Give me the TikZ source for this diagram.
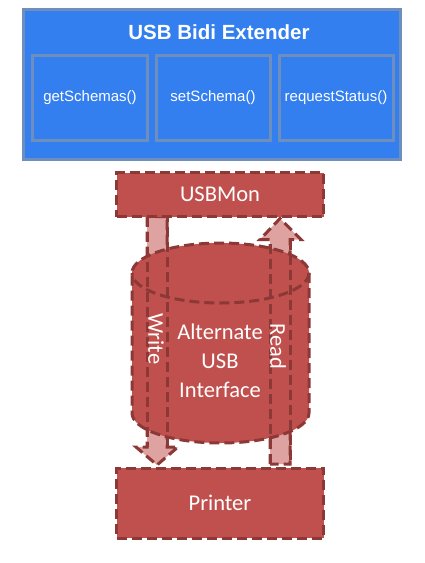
\documentclass[tikz,border=0pt]{standalone}
\usepackage{fontspec}
\setmainfont{Carlito}
\newfontfamily\arialfont{Liberation Sans}
\usetikzlibrary{calc,backgrounds}

\definecolor{extblue}{RGB}{51,127,240}
\definecolor{extedge}{RGB}{110,143,190}
\definecolor{monred}{RGB}{192,80,77}
\definecolor{monedge}{RGB}{140,56,54}
\definecolor{arrowpink}{RGB}{222,162,161}

\tikzset{
  extbox/.style={draw=extedge, line width=3pt, fill=extblue, inner sep=0pt, outer sep=0pt},
  methodbox/.style={extbox, minimum width=114pt, minimum height=85pt, text=white,
    font=\arialfont\fontsize{15}{18}\selectfont},
  reddash/.style={draw=monedge, line width=3pt, dash pattern=on 10pt off 5pt},
  redbox/.style={reddash, fill=monred, minimum width=207pt, inner sep=0pt, outer sep=0pt,
    text=white, font=\fontsize{22.5}{28}\selectfont},
  redtext/.style={text=white, font=\fontsize{22.5}{29}\selectfont},
  blockarrow/.style={reddash, fill=arrowpink}
}

\begin{document}
\begin{tikzpicture}[x=1pt, y=-1pt, node distance=123pt]
\useasboundingbox (0,0) rectangle (424,563);

% extender
\node[extbox, minimum width=377pt, minimum height=150pt] (ext) at (212,84.5) {};
\node[text=white, font=\arialfont\bfseries\fontsize{20.5}{24}\selectfont] (title) at (219,32) {USB Bidi Extender};
\node[methodbox, minimum width=115pt] (m1) at (90,97.5) {getSchemas()};
\node[methodbox, right of=m1] (m2) {setSchema()};
\node[methodbox, right of=m2] (m3) {requestStatus()};

% usb side
\node[redbox, minimum height=44pt] (usbmon) at (220,194.5) {USBMon};
\node[redbox, minimum height=70pt, below of=usbmon, node distance=308.5pt] (printer) {Printer};

\node[redtext, align=center] (iface) at (220,361) {Alternate\\USB\\Interface};
\node[redtext, rotate=-90] (write) at (156,339) {Write};
\node[redtext, rotate=-90] (read) at (278,346) {Read};

\coordinate (wx) at (157,0);
\coordinate (rx) at (280,0);
\coordinate (wtop) at (usbmon.south -| wx);
\coordinate (wtip) at ($(printer.north -| wx)+(0,-3)$);
\coordinate (rbot) at ($(printer.north -| rx)+(0,-4)$);
\coordinate (rtip) at ($(usbmon.south -| rx)+(0,2)$);

\begin{scope}[on background layer]
\draw[blockarrow] ($(wtop)+(-10,0)$) -- ($(wtip)+(-10,-18)$) -- ($(wtip)+(-21,-18)$) -- (wtip)
  -- ($(wtip)+(21,-18)$) -- ($(wtip)+(10,-18)$) -- ($(wtop)+(10,0)$) -- cycle;
\draw[blockarrow] ($(rbot)+(-10,0)$) -- ($(rtip)+(-10,21)$) -- ($(rtip)+(-20,21)$) -- (rtip)
  -- ($(rtip)+(21,21)$) -- ($(rtip)+(10,21)$) -- ($(rbot)+(10,0)$) -- cycle;

% cylinder
\draw[reddash, fill=monred] (309,273) -- (309,413) arc[start angle=0, end angle=180, x radius=88.5, y radius=30]
  -- (132,273) arc[start angle=180, end angle=360, x radius=88.5, y radius=30] -- cycle;
\draw[reddash] (309,273) arc[start angle=0, end angle=180, x radius=88.5, y radius=30];

\draw[reddash] ($(wtop)+(-10,0)$) -- ($(wtip)+(-10,-18)$) ($(wtip)+(10,-18)$) -- ($(wtop)+(10,0)$);
\draw[reddash] ($(rbot)+(-10,0)$) -- ($(rtip)+(-10,21)$) ($(rtip)+(10,21)$) -- ($(rbot)+(10,0)$);
\end{scope}
\end{tikzpicture}
\end{document}
